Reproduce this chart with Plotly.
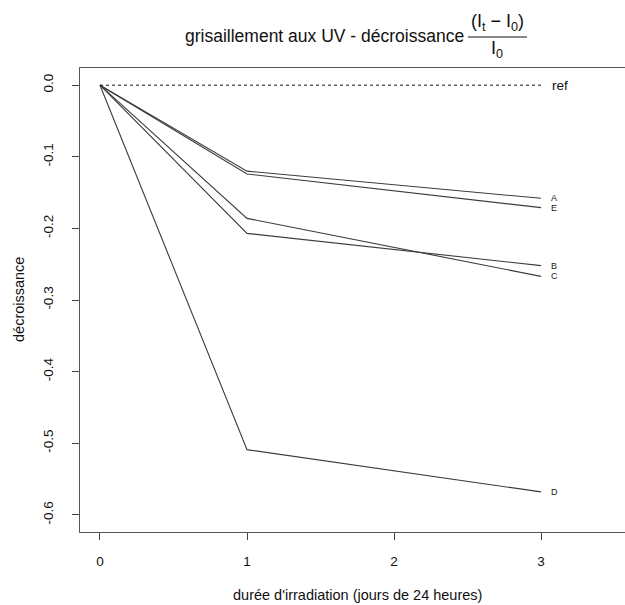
import plotly.graph_objects as go

days = [0, 1, 3]
series_names = ["A", "B", "C", "D", "E"]
A = [0.0, -0.120, -0.158]
B = [0.0, -0.207, -0.252]
C = [0.0, -0.186, -0.267]
D = [0.0, -0.509, -0.568]
E = [0.0, -0.124, -0.171]
ref_x = [0, 3]
ref_y = [0.0, 0.0]
x_ticks = [0, 1, 2, 3]
y_ticks = [0.0, -0.1, -0.2, -0.3, -0.4, -0.5, -0.6]

W, H = 625, 605
L, R, T, B_ = 80, 0, 68, 73
pw, ph = W - L - R, H - T - B_

def px(x):
    return (x - L) / pw

def py(y):
    return (H - B_ - y) / ph

FONT = "Liberation Sans, Arial, sans-serif"
fig = go.Figure()
values = {"A": A, "B": B, "C": C, "D": D, "E": E}
for name in series_names:
    fig.add_trace(go.Scatter(x=days, y=values[name], mode="lines",
                             line=dict(color="#3c3c3c", width=1.1), showlegend=False,
                             hoverinfo="skip"))
fig.add_trace(go.Scatter(x=ref_x, y=ref_y, mode="lines",
                         line=dict(color="#111", width=1, dash="3px,3px"),
                         showlegend=False, hoverinfo="skip"))

ann = []
for name in series_names:
    ann.append(dict(x=days[-1], y=values[name][-1], text=name, showarrow=False,
                    xanchor="left", yanchor="middle", xshift=8,
                    font=dict(size=9, color="#222", family=FONT)))
ann.append(dict(x=ref_x[-1], y=ref_y[-1], text="ref", showarrow=False,
                xanchor="left", yanchor="middle", xshift=9,
                font=dict(size=13.5, color="#111", family=FONT)))
# title
ann.append(dict(xref="paper", yref="paper", x=px(466), y=py(36), text="grisaillement aux UV - décroissance",
                showarrow=False, xanchor="right", yanchor="middle",
                font=dict(size=17.5, color="#111", family=FONT)))
ann.append(dict(xref="paper", yref="paper", x=px(497), y=py(22), text="(I<sub>t</sub> − I<sub>0</sub>)",
                showarrow=False, xanchor="center", yanchor="middle",
                font=dict(size=18, color="#111", family=FONT)))
ann.append(dict(xref="paper", yref="paper", x=px(497), y=py(49), text="I<sub>0</sub>",
                showarrow=False, xanchor="center", yanchor="middle",
                font=dict(size=18, color="#111", family=FONT)))
# axis titles
ann.append(dict(xref="paper", yref="paper", x=px(357), y=py(595), text="durée d'irradiation (jours de 24 heures)",
                showarrow=False, xanchor="center", yanchor="middle",
                font=dict(size=14.5, color="#111", family=FONT)))
ann.append(dict(xref="paper", yref="paper", x=px(19), y=py(300), text="décroissance",
                showarrow=False, xanchor="center", yanchor="middle", textangle=-90,
                font=dict(size=14.5, color="#111", family=FONT)))

shapes = [dict(type="line", xref="paper", yref="paper", x0=px(468), x1=px(527),
               y0=py(37), y1=py(37), line=dict(color="#111", width=1))]

fig.update_layout(
    width=W, height=H, margin=dict(l=L, r=R, t=T, b=B_),
    paper_bgcolor="white", plot_bgcolor="white",
    annotations=ann, shapes=shapes,
    font=dict(family=FONT, color="#111"),
)
fig.update_xaxes(range=[-0.136, 3.571], tickvals=x_ticks, ticktext=[str(v) for v in x_ticks],
                 showgrid=False, zeroline=False, showline=True, mirror=True,
                 linecolor="#555", linewidth=1, ticks="outside", ticklen=7, tickcolor="#444",
                 tickfont=dict(size=13.5, color="#111"), ticklabelstandoff=10)
fig.update_yaxes(range=[-0.624, 0.024], tickvals=y_ticks, ticktext=[f"{v:.1f}" for v in y_ticks],
                 showgrid=False, zeroline=False, showline=True, mirror=False,
                 linecolor="#555", linewidth=1, ticks="outside", ticklen=7, tickcolor="#444",
                 tickangle=-90, tickfont=dict(size=13.5, color="#111"), ticklabelstandoff=14)

fig.write_html("out.html", config={"displayModeBar": False},
               post_script="document.body.style.margin='0';document.body.style.overflow='hidden';")
